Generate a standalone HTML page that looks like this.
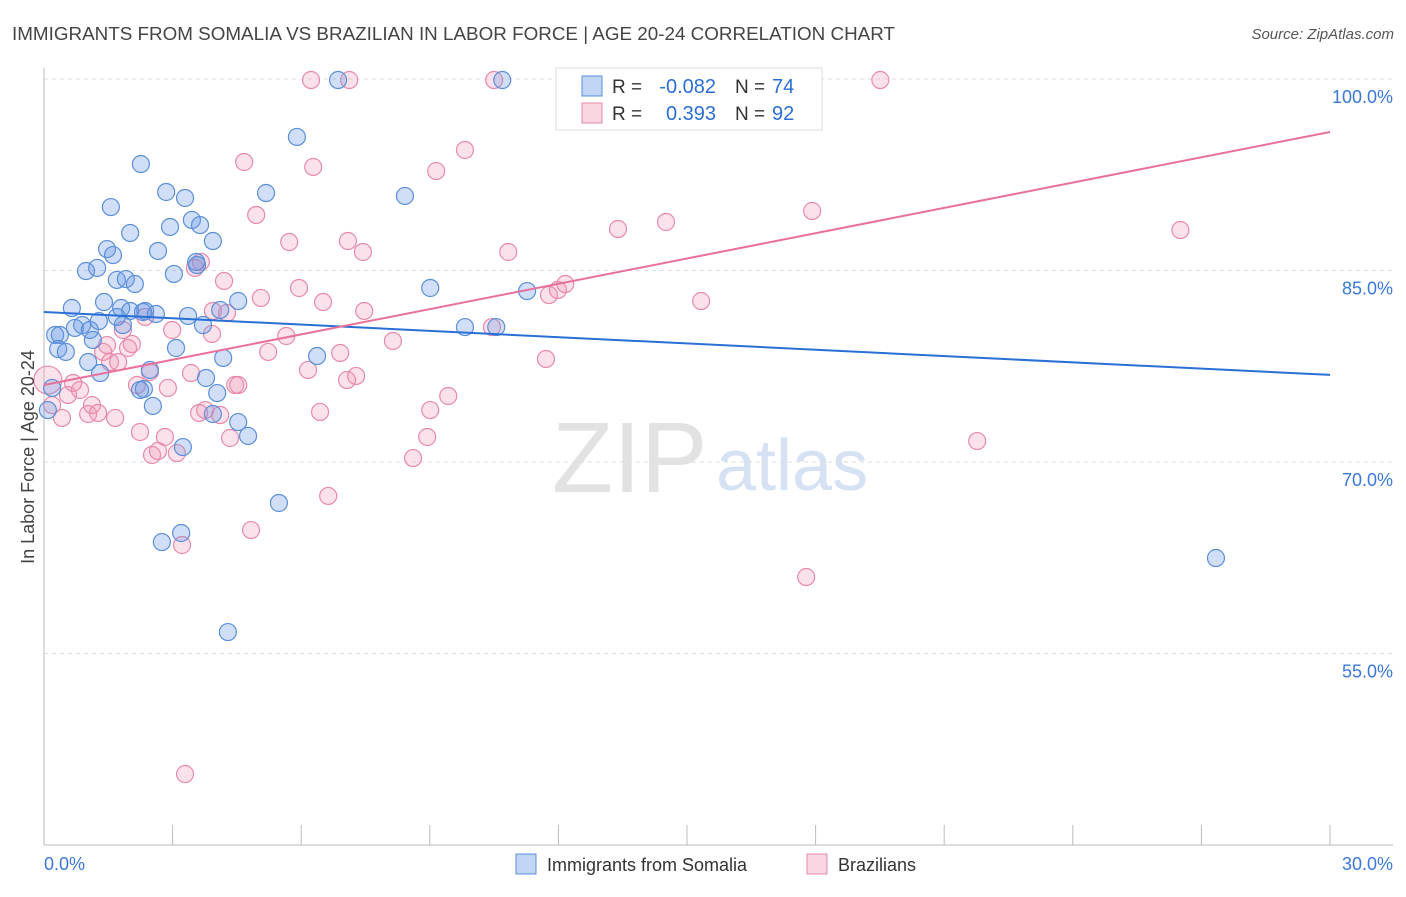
<!DOCTYPE html>
<html><head><meta charset="utf-8"><style>
body{margin:0;background:#fff;font-family:"Liberation Sans",sans-serif;}
svg text{font-family:"Liberation Sans",sans-serif;}
</style></head><body>
<svg id="chart" width="1406" height="892" xmlns="http://www.w3.org/2000/svg">
<text x="12" y="40" font-size="18" fill="#444" textLength="883" lengthAdjust="spacingAndGlyphs">IMMIGRANTS FROM SOMALIA VS BRAZILIAN IN LABOR FORCE | AGE 20-24 CORRELATION CHART</text>
<text x="1394" y="39" font-size="15" fill="#555" text-anchor="end" font-style="italic">Source: ZipAtlas.com</text>
<text x="552" y="492" font-size="100" fill="#e2e2e2" font-family="Liberation Serif">ZIP</text>
<text x="716" y="490" font-size="72" fill="#d6e2f3">atlas</text>
<g id="grid"></g>
<g id="axes"></g>
<g id="marks"></g>
<text transform="translate(34,457) rotate(-90)" font-size="18" fill="#444" text-anchor="middle">In Labor Force | Age 20-24</text>
<g>
<rect x="556" y="68" width="266" height="62" fill="#fff" stroke="#ddd"/>
<rect x="582" y="76" width="20" height="20" fill="rgba(100,150,230,0.4)" stroke="#5b8fd9"/>
<rect x="582" y="103" width="20" height="20" fill="rgba(240,150,180,0.4)" stroke="#e88aab"/>
<text x="612" y="93" font-size="19" fill="#333">R =</text>
<text x="716" y="93" font-size="20" fill="#2a6fd6" text-anchor="end">-0.082</text>
<text x="735" y="93" font-size="19" fill="#333">N =</text>
<text x="772" y="93" font-size="20" fill="#2a6fd6">74</text>
<text x="612" y="120" font-size="19" fill="#333">R =</text>
<text x="716" y="120" font-size="20" fill="#2a6fd6" text-anchor="end">0.393</text>
<text x="735" y="120" font-size="19" fill="#333">N =</text>
<text x="772" y="120" font-size="20" fill="#2a6fd6">92</text>
</g>
<g>
<rect x="516" y="854" width="20" height="20" fill="rgba(100,150,230,0.4)" stroke="#5b8fd9"/>
<text x="547" y="871" font-size="18" fill="#333">Immigrants from Somalia</text>
<rect x="807" y="854" width="20" height="20" fill="rgba(240,150,180,0.4)" stroke="#e88aab"/>
<text x="838" y="871" font-size="18" fill="#333">Brazilians</text>
</g>
</svg>
<script>
const blueX=[0.26,0.37,0.33,0.51,0.65,0.72,0.89,1.07,1.14,1.24,0.98,1.40,1.47,1.61,1.56,1.70,1.80,1.84,1.91,2.01,2.12,2.26,2.36,2.47,2.54,2.61,2.66,2.85,2.94,3.03,3.08,3.29,3.36,3.45,3.57,3.64,3.71,3.78,3.94,4.04,4.11,4.18,4.53,4.53,4.76,5.18,5.48,5.90,6.37,6.86,8.42,9.01,9.82,10.55,10.69,11.27,27.34,2.75,3.20,3.24,4.29,2.33,2.24,1.31,1.03,0.19,0.09,1.28,1.70,2.01,2.31,3.94,3.55];
const blueY=[79.95,79.95,78.85,78.62,82.06,80.50,80.73,80.34,79.56,85.20,84.96,82.53,86.68,86.21,89.97,84.26,82.06,80.73,84.33,87.94,83.94,93.34,81.83,77.21,74.39,81.59,86.53,91.15,88.41,84.73,78.93,90.68,81.44,88.96,85.43,88.56,80.73,76.58,87.31,75.40,81.91,78.15,82.61,73.13,72.04,91.07,66.79,95.46,78.30,99.92,90.84,83.63,80.57,80.57,99.92,83.39,62.48,63.73,64.44,71.17,56.68,75.72,75.64,76.97,77.83,75.80,74.07,81.04,81.36,81.83,81.75,73.76,85.67];
const pinkX=[0.09,0.19,0.42,0.56,0.68,0.84,1.03,1.12,1.26,1.38,1.47,1.54,1.66,1.73,1.84,1.96,2.05,2.17,2.24,2.36,2.47,2.52,2.66,2.82,2.89,2.99,3.10,3.22,3.29,3.43,3.52,3.66,3.62,3.76,3.92,3.94,4.11,4.20,4.27,4.34,4.46,4.53,4.67,4.83,4.95,5.06,5.23,5.65,5.72,5.95,6.16,6.28,6.23,6.44,6.51,6.63,6.91,7.07,7.12,7.28,7.44,7.47,8.14,8.61,8.94,9.01,9.15,9.43,9.82,10.50,10.45,10.83,11.71,11.78,11.99,12.16,13.39,14.51,15.33,16.45,17.78,17.92,19.51,21.77,26.51,7.09];
const pinkY=[76.42,74.46,73.45,75.25,76.19,75.64,73.76,74.46,73.84,78.62,79.16,77.83,73.45,77.83,80.34,78.93,79.24,76.03,72.35,81.36,77.05,70.55,70.86,71.96,75.80,80.34,70.70,63.50,45.56,76.97,85.20,85.67,73.84,74.07,80.03,81.83,73.68,84.18,81.67,71.88,76.03,76.03,93.50,64.67,89.35,82.85,78.62,79.87,87.23,83.63,77.21,93.11,99.92,73.92,82.53,67.34,78.54,76.42,99.92,76.74,86.45,81.83,79.48,70.31,71.96,74.07,92.79,75.17,94.44,99.92,80.57,86.45,78.07,83.08,83.47,83.94,88.25,88.80,82.61,99.92,60.99,89.66,99.92,71.64,88.17,87.31];
const blueTrend=[81.75,76.82];
const pinkTrend=[76.03,95.85];
const yTicks=[100,85,70,55];
const xTickLabels=["0.0%","30.0%"];
const NS="http://www.w3.org/2000/svg";
const X0=44,X1=1330,Y0=845,Y1=79;
const sx=v=>X0+v/30*(X1-X0);
const sy=v=>Y0-(v-40)/60*(Y0-Y1);
function mk(tag,attrs,parent){const e=document.createElementNS(NS,tag);for(const k in attrs)e.setAttribute(k,attrs[k]);parent.appendChild(e);return e;}
const grid=document.getElementById('grid'),axes=document.getElementById('axes'),marks=document.getElementById('marks');
yTicks.forEach(t=>{
 const l=mk('line',{x1:X0,x2:1393,y1:sy(t),y2:sy(t),stroke:'#ddd','stroke-dasharray':'4,4'},grid);
 
 
 const tx=mk('text',{x:1393,y:sy(t)+24,'font-size':18,fill:'#3b78d8','text-anchor':'end'},axes);
 tx.textContent=t.toFixed(1)+'%';
 
 
});
mk('line',{x1:X0,x2:X0,y1:68,y2:Y0,stroke:'#bbb'},axes);
mk('line',{x1:X0,x2:1393,y1:Y0,y2:Y0,stroke:'#bbb'},axes);
for(let i=0;i<=10;i++){const t=mk('line',{x1:sx(i*3),x2:sx(i*3),y1:825,y2:Y0,stroke:'#bbb'},axes);
 
 }
const xl0=mk('text',{x:44,y:870,'font-size':18,fill:'#3b78d8'},axes);xl0.textContent=xTickLabels[0];


const xl1=mk('text',{x:1393,y:870,'font-size':18,fill:'#3b78d8','text-anchor':'end'},axes);xl1.textContent=xTickLabels[1];


pinkX.forEach((x,i)=>{const c=mk('circle',{cx:sx(x),cy:sy(pinkY[i]),r:i===0?14:8.5,fill:'rgba(240,150,180,0.28)',stroke:'#e88aab','stroke-width':1.2},marks);
 
 });
blueX.forEach((x,i)=>{const c=mk('circle',{cx:sx(x),cy:sy(blueY[i]),r:8.5,fill:'rgba(100,150,230,0.3)',stroke:'#5b8fd9','stroke-width':1.2},marks);
 
 });
const bl=mk('line',{x1:sx(0),x2:sx(30),y1:sy(blueTrend[0]),y2:sy(blueTrend[1]),stroke:'#2a6fd6','stroke-width':2},marks);


const pl=mk('line',{x1:sx(0),x2:sx(30),y1:sy(pinkTrend[0]),y2:sy(pinkTrend[1]),stroke:'#e8709a','stroke-width':2},marks);


</script>
</body></html>
